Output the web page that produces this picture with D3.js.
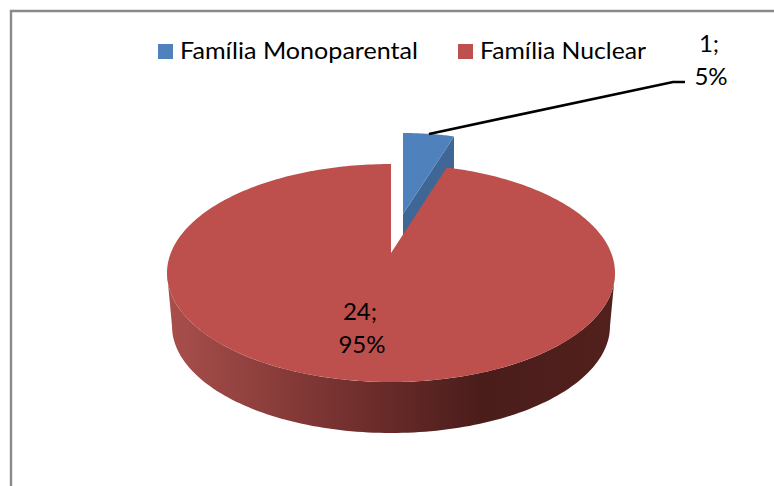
<!DOCTYPE html>
<html><head><meta charset="utf-8">
<script src="https://cdn.jsdelivr.net/npm/d3@7/dist/d3.min.js"></script>
<style>html,body{margin:0;padding:0;background:#fff;overflow:hidden}svg{display:block}
text{font-family:Lato,"Open Sans",sans-serif;fill:#000}</style></head><body>
<script>
const categories = ["Família Monoparental", "Família Nuclear"];
const values = [1, 24];
const valueLabels = ["1;", "24;"];
const percentLabels = ["5%", "95%"];
const colors = ["#4f81bd", "#bd4f4c"];

const W = 774, H = 486;
const svg = d3.select("body").append("svg").attr("width", W).attr("height", H);
const arcs = d3.pie().value(d => d).sort(null)(values);
const [blue, red] = arcs;

// frame (runs off the right and bottom of the crop)
svg.append("path").attr("d", `M11 ${H+2}V11H${W+2}`).attr("fill", "none")
  .attr("stroke", "#8a8a8a").attr("stroke-width", 2.4);

const defs = svg.append("defs");
const grad = defs.append("linearGradient").attr("id", "side").attr("gradientUnits", "userSpaceOnUse")
  .attr("x1", 167).attr("x2", 615).attr("y1", 0).attr("y2", 0);
[[0, "#a94f4c"], [0.2, "#8f403d"], [0.45, "#6d2d2b"], [0.7, "#4a1d1b"], [1, "#52201d"]]
  .forEach(([o, c]) => grad.append("stop").attr("offset", o).attr("stop-color", c));

const P = { cx: 391, cy: 273, rx: 224, ry: 109, apexY: 253 };
const B = { cx: 403, cy: 241.5, rx: 205, ry: 108.5, apexY: 214, depth: 51 };
const pt = (g, a) => [g.cx + g.rx * Math.sin(a), g.cy - g.ry * Math.cos(a)];

function wedge(g, a0, a1, n = 120) {
  const s = d3.range(n + 1).map(i => pt(g, a0 + (a1 - a0) * i / n));
  return d3.line()([[g.cx, g.apexY], ...s]) + "Z";
}

// Blue exploded slice: cut face then top
const e = pt(B, blue.endAngle);
svg.append("path").attr("fill", "#3f6795")
  .attr("d", d3.line()([[B.cx, B.apexY], e, [e[0], e[1] + B.depth], [B.cx, B.apexY + B.depth]]) + "Z");
svg.append("path").attr("fill", colors[0]).attr("d", wedge(B, blue.startAngle, blue.endAngle, 30));

// Red slice: rim then top
const bottom = { cx: 391, cy: 326, rx: 219, ry: 107 };
const n = 120;
const topEdge = d3.range(n + 1).map(i => pt(P, Math.PI / 2 + Math.PI * i / n));
const botEdge = d3.range(n + 1).map(i => pt(bottom, Math.PI * 3 / 2 - Math.PI * i / n));
svg.append("path").attr("fill", "url(#side)").attr("d", d3.line()([...topEdge, ...botEdge]) + "Z");
svg.append("path").attr("fill", colors[1]).attr("d", wedge(P, red.startAngle, red.endAngle, 360));

// Leader line
svg.append("path").attr("fill", "none").attr("stroke", "#000").attr("stroke-width", 2.7)
  .attr("d", d3.line()([[429, 134], [673, 82], [685, 82]]));

// Legend
const legendX = d3.scaleOrdinal().domain(categories).range([158, 458]);
const legendWidth = d3.scaleOrdinal().domain(categories).range([238, 166]);
const legend = svg.selectAll("g.leg").data(categories).join("g").attr("class", "leg")
  .attr("transform", d => `translate(${legendX(d)},0)`);
legend.append("rect").attr("y", 44).attr("width", 15).attr("height", 15).attr("fill", (d, i) => colors[i]);
legend.append("text").attr("x", 22).attr("y", 59).attr("font-size", 24)
  .attr("textLength", d => legendWidth(d)).attr("lengthAdjust", "spacingAndGlyphs").text(d => d);

// Data labels
const labelPos = [[709, 711], [360, 362]];
const labelY = [[52, 85], [320, 353]];
values.forEach((v, i) => {
  svg.append("text").attr("x", labelPos[i][0]).attr("y", labelY[i][0]).attr("text-anchor", "middle")
    .attr("font-size", 24).text(valueLabels[i]);
  svg.append("text").attr("x", labelPos[i][1]).attr("y", labelY[i][1]).attr("text-anchor", "middle")
    .attr("font-size", 24).text(percentLabels[i]);
});
</script></body></html>
